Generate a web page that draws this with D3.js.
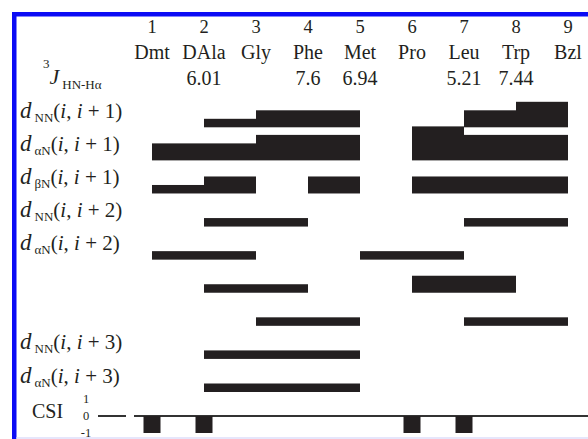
<!DOCTYPE html>
<html>
<head>
<meta charset="utf-8">
<script src="https://cdn.jsdelivr.net/npm/d3@7"></script>
<style>
  html, body { margin: 0; padding: 0; background: #fff; }
  svg { display: block; }
  text { font-family: "Liberation Serif", "Times New Roman", serif; fill: #231f20; }
</style>
</head>
<body>
<div id="chart"></div>
<script>
// Residues of the peptide, numbered 1..9
const residueNumbers = [1, 2, 3, 4, 5, 6, 7, 8, 9];
const residueNames = ["Dmt", "DAla", "Gly", "Phe", "Met", "Pro", "Leu", "Trp", "Bzl"];

// 3J(HN-Hα) coupling constants (Hz); null where not measured
const jCoupling = [null, 6.01, null, 7.6, 6.94, null, 5.21, 7.44, null];

// NOE connectivity rows: [from residue, to residue, intensity (1 weak .. 4 very strong)]
const rowNames = [
  ["NN", "1"], ["αN", "1"], ["βN", "1"], ["NN", "2"], ["αN", "2"],
  null, null, ["NN", "3"], ["αN", "3"]
];
const noeNN1 = [[2, 3, 1], [3, 4, 2], [4, 5, 2], [7, 8, 2], [8, 9, 3]];
const noeAN1 = [[1, 2, 2], [2, 3, 2], [3, 4, 3], [4, 5, 3], [6, 7, 4], [7, 8, 3], [8, 9, 3]];
const noeBN1 = [[1, 2, 1], [2, 3, 2], [4, 5, 2], [6, 7, 2], [7, 8, 2], [8, 9, 2]];
const noeNN2 = [[2, 4, 1], [7, 9, 1]];
const noeAN2 = [[1, 3, 1], [5, 7, 1]];
const noeRow6 = [[2, 4, 1], [6, 8, 2]];
const noeRow7 = [[3, 5, 1], [7, 9, 1]];
const noeNN3 = [[2, 5, 1]];
const noeAN3 = [[2, 5, 1]];
const noeRows = [noeNN1, noeAN1, noeBN1, noeNN2, noeAN2, noeRow6, noeRow7, noeNN3, noeAN3];

// Chemical shift index per residue
const csiValues = [-1, -1, 0, 0, 0, -1, -1, 0, 0];
const csiTicks = [1, 0, -1];

const W = 588, H = 439;
const ink = "#231f20";

const svg = d3.select("#chart").append("svg")
  .attr("width", W).attr("height", H);

// Frame
svg.append("rect").attr("x", 12).attr("y", 12).attr("width", W - 12).attr("height", 4.5).attr("fill", "#0b0bf5");
svg.append("rect").attr("x", 12).attr("y", 12).attr("width", 4.5).attr("height", H - 12).attr("fill", "#0b0bf5");
svg.append("rect").attr("x", 16.5).attr("y", 437).attr("width", W - 16.5).attr("height", 2).attr("fill", "#e6e6fb");

// Scales
const x = d3.scaleLinear().domain([1, 9]).range([152, 568]);
const rowBottom = d3.scaleLinear().domain([0, 8]).range([127.3, 392]);
const barH = d3.scaleLinear().domain([0, 4]).range([0, 34]);
const yCsi = d3.scaleLinear().domain([-1, 1]).range([433, 399]);

// Header: residue numbers, names, coupling constants
const header = svg.append("g").attr("text-anchor", "middle");
header.selectAll("text.num").data(residueNumbers).join("text")
  .attr("class", "num")
  .attr("x", d => x(d)).attr("y", 33)
  .attr("font-size", 18.5)
  .text(d => d);
header.selectAll("text.name").data(residueNames).join("text")
  .attr("class", "name")
  .attr("x", (d, i) => x(residueNumbers[i])).attr("y", 58.5)
  .attr("font-size", 20)
  .text(d => d);
header.selectAll("text.j").data(jCoupling.map((v, i) => ({ v, r: residueNumbers[i] })).filter(d => d.v !== null)).join("text")
  .attr("class", "j")
  .attr("x", d => x(d.r)).attr("y", 85)
  .attr("font-size", 20)
  .text(d => d.v);

// 3J(HN-Hα) label
const jLabel = svg.append("text").attr("x", 43).attr("y", 68).attr("font-size", 13);
jLabel.append("tspan").text("3");
jLabel.append("tspan").attr("dy", 16).attr("font-size", 22).attr("font-style", "italic").text("J");
jLabel.append("tspan").attr("dx", 3).attr("dy", 5).attr("font-size", 13).text("HN-Hα");

// Row labels
rowNames.forEach((r, k) => {
  if (!r) return;
  const t = svg.append("text").attr("x", 20).attr("y", rowBottom(k) - 9.5).attr("font-size", 21);
  t.append("tspan").attr("font-style", "italic").attr("font-size", 23).text("d");
  t.append("tspan").attr("dx", 3).attr("dy", 4).attr("font-size", 13).text(r[0]);
  t.append("tspan").attr("dy", -4).text("(");
  t.append("tspan").attr("font-style", "italic").text("i");
  t.append("tspan").text(", ");
  t.append("tspan").attr("font-style", "italic").text("i");
  t.append("tspan").text(" + " + r[1] + ")");
});

// NOE bars
const bars = svg.append("g").attr("fill", ink);
noeRows.forEach((row, k) => {
  bars.selectAll(null).data(row).join("rect")
    .attr("x", d => x(d[0]))
    .attr("width", d => x(d[1]) - x(d[0]))
    .attr("y", d => rowBottom(k) - barH(d[2]))
    .attr("height", d => barH(d[2]));
});

// CSI panel
svg.append("text").attr("x", 32).attr("y", 418).attr("font-size", 20).text("CSI");
svg.append("g").attr("text-anchor", "middle").selectAll("text").data(csiTicks).join("text")
  .attr("x", 86).attr("y", d => yCsi(d) + 4)
  .attr("font-size", 12.5)
  .text(d => d);
svg.append("line").attr("x1", 98).attr("x2", 126).attr("y1", yCsi(0)).attr("y2", yCsi(0))
  .attr("stroke", "#333").attr("stroke-width", 2);
svg.append("line").attr("x1", 134).attr("x2", W).attr("y1", yCsi(0)).attr("y2", yCsi(0))
  .attr("stroke", "#333").attr("stroke-width", 2);
const csiW = 17;
svg.append("g").attr("fill", ink).selectAll("rect")
  .data(csiValues.map((v, i) => ({ v, r: residueNumbers[i] })).filter(d => d.v !== 0)).join("rect")
  .attr("x", d => x(d.r) - csiW / 2)
  .attr("width", csiW)
  .attr("y", d => Math.min(yCsi(0), yCsi(d.v)))
  .attr("height", d => Math.abs(yCsi(d.v) - yCsi(0)));
</script>
</body>
</html>
